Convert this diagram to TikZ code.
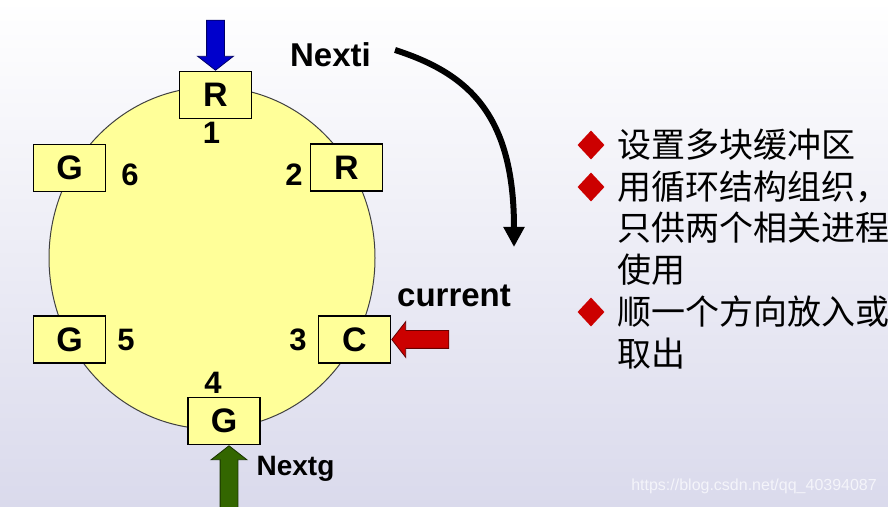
\documentclass[tikz,border=0pt]{standalone}
\usepackage{fontspec}
\setmainfont{Liberation Sans}
\newfontfamily\cjk{Noto Sans CJK SC}
\usepackage{xcolor}
\definecolor{cBuf}{HTML}{FFFF99}
\definecolor{cIn}{HTML}{0000CC}
\definecolor{cOut}{HTML}{336600}
\definecolor{cCur}{HTML}{CC0000}
\definecolor{cRing}{HTML}{404040}
\definecolor{cBgTop}{HTML}{FFFFFF}
\definecolor{cBgBot}{HTML}{DADAEC}
\definecolor{cMark}{HTML}{F4F4FA}
\usepackage{tikz}
\usetikzlibrary{positioning,arrows.meta,shapes.geometric,shapes.arrows}
\tikzset{
  node-ring/.style={draw=cRing,line width=1pt,ellipse,fill=cBuf,
    minimum width=326pt,minimum height=342pt,inner sep=0pt},
  node-buf/.style={draw=black,line width=1.5pt,fill=cBuf,inner sep=0pt,
    minimum width=72pt,minimum height=47pt,font=\fontsize{34}{40}\selectfont\bfseries},
  node-num/.style={inner sep=0pt,font=\fontsize{31}{36}\selectfont\bfseries},
  node-label/.style={inner sep=0pt,anchor=base,font=\fontsize{33}{40}\selectfont\bfseries},
  node-item/.style={inner sep=0pt,anchor=west,align=left,font=\cjk\fontsize{34}{41.6}\selectfont},
  node-bullet/.style={diamond,fill=cCur,minimum width=27pt,minimum height=29pt,inner sep=0pt},
  % block pointers (Nexti / Nextg / current)
  arrow-block/.style={single arrow,inner sep=8.5pt,minimum height=#1,
    single arrow head extend=9pt,single arrow tip angle=104,anchor=tip,line width=0.8pt},
  arrow-turn/.style={-{Triangle[length=20pt,width=20pt]},line width=6pt},
}

\begin{document}
\begin{tikzpicture}[x=1pt,y=1pt]
  \useasboundingbox (0,0) rectangle (888,506);
  \clip (0,0) rectangle (888,506);
  \shade[top color=cBgTop,bottom color=cBgBot] (0,0) rectangle (888,506);

  % ring of buffers
  \node[node-ring] (ring) at (212,248) {};
  \node[node-buf] (r1) at (215.5,411) {R};
  \node[node-buf] (r2) at (346.5,338.5) {R};
  \node[node-buf] (c3) at (354.5,166.5) {C};
  \node[node-buf] (g4) at (224,85) {G};
  \node[node-buf] (g5) at (69.5,166.5) {G};
  \node[node-buf] (g6) at (69.5,338) {G};

  \node[node-num,below=3pt of r1,xshift=-4pt] (n1) {1};
  \node[node-num,left=7pt of r2,yshift=-7pt] (n2) {2};
  \node[node-num,left=11pt of c3] (n3) {3};
  \node[node-num,above=3pt of g4,xshift=-11pt] (n4) {4};
  \node[node-num,right=11pt of g5] (n5) {5};
  \node[node-num,right=15pt of g6,yshift=-7pt] (n6) {6};

  % pointers
  \node[arrow-block=50pt,fill=cIn,draw=cIn!50!black,rotate=-90] (nexti-arrow) at (r1.north) {};
  \node[arrow-block=62pt,fill=cOut,draw=cOut!50!black,rotate=90] (nextg-arrow) at ([xshift=5pt]g4.south) {};
  \node[arrow-block=57pt,fill=cCur,draw=cCur!50!black,rotate=180] (cur-arrow) at (c3.east) {};

  \node[node-label] (nexti) at (330.5,439) {Nexti};
  \node[node-label] (current) at (454,199) {current};
  \node[node-label,font=\fontsize{28}{34}\selectfont\bfseries] (nextg) at (295.5,31) {Nextg};

  \coordinate (turn-start) at (395,456);
  \coordinate (turn-end) at (514,259);
  \draw[arrow-turn] (turn-start) .. controls (470,432) and (514,390) .. (turn-end);

  % notes
  \node[node-bullet] (dm1) at (591,361) {};
  \node[node-item] (it1) at (617,361) {设置多块缓冲区};
  \node[node-bullet] (dm2) at (591,319) {};
  \node[node-item] (it2) at (617,278) {用循环结构组织，\\只供两个相关进程\\使用};
  \node[node-bullet] (dm3) at (591,194) {};
  \node[node-item] (it3) at (617,173.5) {顺一个方向放入或\\取出};

  \node[text=cMark,anchor=east,inner sep=0pt,font=\fontsize{16}{19}\selectfont] (mark) at (877,20) {https://blog.csdn.net/qq\_40394087};
\end{tikzpicture}
\end{document}
